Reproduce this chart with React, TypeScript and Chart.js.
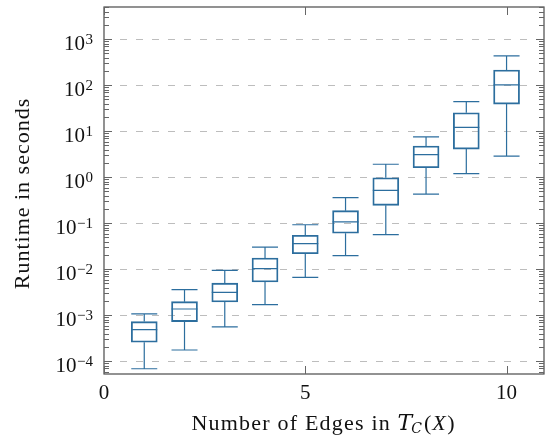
import React, { useEffect, useRef } from "react";
import { Chart, registerables } from "chart.js";

Chart.register(...registerables);

const edges = [1, 2, 3, 4, 5, 6, 7, 8, 9, 10];
const whiskerLow = [6.9e-5, 1.76e-4, 5.6e-4, 1.7e-3, 6.7e-3, 0.0198, 0.0565, 0.43, 1.2, 2.9];
const q1 = [2.6e-4, 7.3e-4, 1.95e-3, 5.3e-3, 0.0218, 0.061, 0.246, 1.62, 4.1, 39];
const median = [4.9e-4, 1.37e-3, 3.16e-3, 0.0103, 0.036, 0.107, 0.52, 3.1, 12.2, 102];
const q3 = [7.3e-4, 1.98e-3, 5.0e-3, 0.0176, 0.055, 0.188, 0.98, 4.79, 25.3, 215];
const whiskerHigh = [1.07e-3, 3.6e-3, 9.5e-3, 0.0305, 0.093, 0.36, 1.92, 7.6, 44, 434];

const yExponents = [-4, -3, -2, -1, 0, 1, 2, 3];
const xTicks = [0, 5, 10];

const BLUE = "#2c6e9e";
const FONT = "'Liberation Serif', 'DejaVu Serif', serif";

const boxPlugin = {
  id: "boxDecor",
  afterDatasetsDraw(chart: any) {
    const { ctx, scales } = chart;
    const xs = scales.x;
    const ys = scales.y;
    const half = 13;
    ctx.save();
    ctx.strokeStyle = BLUE;
    ctx.lineWidth = 1.2;
    for (let i = 0; i < edges.length; i++) {
      const cx = xs.getPixelForValue(edges[i]);
      const yl = ys.getPixelForValue(whiskerLow[i]);
      const yq1 = ys.getPixelForValue(q1[i]);
      const ym = ys.getPixelForValue(median[i]);
      const yq3 = ys.getPixelForValue(q3[i]);
      const yh = ys.getPixelForValue(whiskerHigh[i]);
      ctx.beginPath();
      ctx.moveTo(cx, yq1);
      ctx.lineTo(cx, yl);
      ctx.moveTo(cx - half, yl);
      ctx.lineTo(cx + half, yl);
      ctx.moveTo(cx, yq3);
      ctx.lineTo(cx, yh);
      ctx.moveTo(cx - half, yh);
      ctx.lineTo(cx + half, yh);
      ctx.moveTo(cx - half, ym);
      ctx.lineTo(cx + half, ym);
      ctx.stroke();
    }
    ctx.restore();
  },
  beforeDatasetsDraw(chart: any) {
    const { ctx, chartArea: a, scales } = chart;
    const ys = scales.y;
    ctx.save();
    ctx.strokeStyle = "#bdbdbd";
    ctx.lineWidth = 1;
    ctx.setLineDash([7, 9]);
    for (const e of yExponents) {
      const y = Math.round(ys.getPixelForValue(Math.pow(10, e))) + 0.5;
      ctx.beginPath();
      ctx.moveTo(a.left, y);
      ctx.lineTo(a.right, y);
      ctx.stroke();
    }
    ctx.restore();
  },
  afterDraw(chart: any) {
    const { ctx, chartArea: a, scales } = chart;
    const xs = scales.x;
    const ys = scales.y;
    ctx.save();
    // frame
    ctx.strokeStyle = "#4a4a4a";
    ctx.lineWidth = 1.2;
    ctx.strokeRect(a.left, a.top, a.right - a.left, a.bottom - a.top);
    // y ticks (major + minor), both sides
    ctx.strokeStyle = "#666";
    ctx.lineWidth = 1;
    ctx.beginPath();
    for (let e = -5; e <= 3; e++) {
      for (let m = 1; m <= 9; m++) {
        const v = m * Math.pow(10, e);
        const y = ys.getPixelForValue(v);
        if (y < a.top || y > a.bottom) continue;
        const len = m === 1 ? 8 : 5;
        const yy = Math.round(y) + 0.5;
        ctx.moveTo(a.left, yy);
        ctx.lineTo(a.left + len, yy);
        ctx.moveTo(a.right, yy);
        ctx.lineTo(a.right - len, yy);
      }
    }
    for (const t of xTicks) {
      const x = Math.round(xs.getPixelForValue(t)) + 0.5;
      ctx.moveTo(x, a.bottom);
      ctx.lineTo(x, a.bottom - 8);
      ctx.moveTo(x, a.top);
      ctx.lineTo(x, a.top + 8);
    }
    ctx.stroke();
    // y tick labels
    ctx.fillStyle = "#111";
    ctx.textBaseline = "alphabetic";
    ctx.textAlign = "left";
    for (const e of yExponents) {
      const y = ys.getPixelForValue(Math.pow(10, e));
      const exp = e < 0 ? "\u2212" + String(-e) : String(e);
      ctx.font = `15px ${FONT}`;
      const ew = ctx.measureText(exp).width;
      const rightX = a.left - 11;
      ctx.fillText(exp, rightX - ew, y + 5);
      ctx.font = `21px ${FONT}`;
      const bw = ctx.measureText("10").width;
      ctx.fillText("10", rightX - ew - bw - 0.5, y + 10.5);
    }
    // x tick labels
    ctx.font = `21px ${FONT}`;
    ctx.textAlign = "center";
    ctx.textBaseline = "alphabetic";
    for (const t of xTicks) {
      const x = xs.getPixelForValue(t);
      ctx.fillText(String(t), x, a.bottom + 25);
    }
    // x title
    ctx.textAlign = "left";
    const part1 = "Number of Edges in ";
    const by = 430;
    let x0 = 191.5;
    ctx.font = `22px ${FONT}`;
    (ctx as any).letterSpacing = "1.2px";
    ctx.fillText(part1, x0, by);
    x0 += ctx.measureText(part1).width;
    (ctx as any).letterSpacing = "0px";
    ctx.font = `italic 22px 'DejaVu Serif', serif`;
    ctx.fillText("T", x0, by);
    x0 += ctx.measureText("T").width - 1;
    ctx.font = `italic 14px 'DejaVu Serif', serif`;
    ctx.fillText("C", x0, by + 3);
    x0 += ctx.measureText("C").width + 2;
    ctx.font = `22px ${FONT}`;
    ctx.fillText("(", x0, by);
    x0 += ctx.measureText("(").width + 1;
    ctx.font = `italic 22px ${FONT}`;
    ctx.fillText("X", x0, by);
    x0 += ctx.measureText("X").width + 1.5;
    ctx.font = `22px ${FONT}`;
    ctx.fillText(")", x0, by);
    // y title
    ctx.save();
    ctx.translate(29, 193.5);
    ctx.rotate(-Math.PI / 2);
    ctx.textAlign = "center";
    ctx.textBaseline = "alphabetic";
    ctx.font = `22px ${FONT}`;
    (ctx as any).letterSpacing = "1px";
    ctx.fillText("Runtime in seconds", 0, 0);
    (ctx as any).letterSpacing = "0px";
    ctx.restore();
    ctx.restore();
  },
};

export default function App() {
  const ref = useRef<HTMLCanvasElement | null>(null);
  useEffect(() => {
    if (!ref.current) return;
    const chart = new Chart(ref.current, {
      type: "bar",
      data: {
        datasets: [
          {
            label: "box",
            data: edges.map((e, i) => ({ x: e, y: [q1[i], q3[i]] })) as any,
            backgroundColor: "rgba(255,255,255,0)",
            borderColor: BLUE,
            borderWidth: 1.2,
            borderSkipped: false,
            barThickness: 26,
          },
        ],
      },
      options: {
        responsive: false,
        animation: false,
        layout: { padding: { left: 104, right: 1, top: 7, bottom: 69 } },
        plugins: { legend: { display: false }, tooltip: { enabled: false } },
        scales: {
          x: {
            type: "linear",
            min: 0,
            max: 10.93,
            offset: false,
            grid: { display: false, drawTicks: false },
            border: { display: false },
            ticks: { display: false },
          },
          y: {
            type: "logarithmic",
            min: 5.3e-5,
            max: 5036,
            grid: { display: false, drawTicks: false },
            border: { display: false },
            ticks: { display: false },
          },
        },
      },
      plugins: [boxPlugin],
    });
    return () => chart.destroy();
  }, []);
  return (
    <div style={{ position: "fixed", left: 0, top: 0, width: 545, height: 443, background: "#fff" }}>
      <canvas ref={ref} width={545} height={443} />
    </div>
  );
}
